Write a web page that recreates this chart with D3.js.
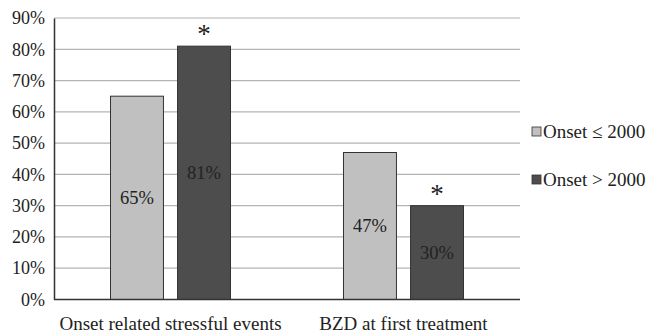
<!DOCTYPE html>
<html><head><meta charset="utf-8">
<script src="https://cdn.jsdelivr.net/npm/d3@7"></script>
<style>body{margin:0;background:#fff;overflow:hidden}svg{display:block}svg text{font-family:"Liberation Serif","Times New Roman",serif}</style>
</head><body>
<script>
const categories = ["Onset related stressful events", "BZD at first treatment"];
const seriesNames = ["Onset \u2264 2000", "Onset > 2000"];
const onsetBefore = [65, 47];
const onsetAfter = [81, 30];
const significant = [false, true]; // asterisk on series
const yTicks = [0,10,20,30,40,50,60,70,80,90];
const colors = ["#c0c0c0", "#4d4d4d"];

const FONT = "'Liberation Serif', 'Times New Roman', serif";
const W = 649, H = 333;
const m = {left:54, right:129, top:18, bottom:33.5};
const svg = d3.select("body").append("svg").attr("width", W).attr("height", H);

const x0 = d3.scaleBand().domain(categories).range([m.left, W - m.right]);
const x1 = d3.scaleBand().domain(seriesNames).range([0, 120]).paddingInner(0.21);
const y = d3.scaleLinear().domain([0, 90]).range([H - m.bottom, m.top]);

// gridlines
svg.append("g").selectAll("line").data(yTicks.filter(d => d > 0)).join("line")
  .attr("x1", m.left).attr("x2", W - m.right)
  .attr("y1", d => y(d)).attr("y2", d => y(d))
  .attr("stroke", "#b3b3b3").attr("stroke-width", 1.2);

// y axis
const yAxis = d3.axisLeft(y).tickValues(yTicks).tickFormat(d => d + "%").tickSize(0).tickPadding(9);
const gy = svg.append("g").attr("transform", `translate(${m.left},0)`).call(yAxis);
gy.attr("font-family", FONT);
gy.select(".domain").attr("stroke", "#333").attr("stroke-width", 1.5);
gy.selectAll("text").attr("font-size", 18).attr("fill", "#222").attr("font-family", FONT);

// bars
const data = categories.map((c, i) => ({cat: c, vals: [onsetBefore[i], onsetAfter[i]]}));
const groups = svg.append("g").selectAll("g").data(data).join("g")
  .attr("transform", d => `translate(${x0(d.cat) + x0.bandwidth()/2 - 60},0)`);

groups.each(function(d) {
  const g = d3.select(this);
  d.vals.forEach((v, j) => {
    const bx = x1(seriesNames[j]), bw = x1.bandwidth();
    g.append("rect").attr("x", bx).attr("width", bw)
      .attr("y", y(v)).attr("height", y(0) - y(v))
      .attr("fill", colors[j]).attr("stroke", "#333").attr("stroke-width", 1);
    g.append("text").attr("x", bx + bw/2).attr("y", (y(v) + y(0))/2 + 6.5)
      .attr("text-anchor", "middle").attr("font-size", 18.5).attr("fill", "#222")
      .attr("font-family", FONT).text(v + "%");
    if (j === 1 && significant[1]) {
      g.append("text").attr("x", bx + bw/2).attr("y", y(v) - 3)
        .attr("text-anchor", "middle").attr("font-size", 27).attr("fill", "#222")
        .attr("font-family", FONT).text("*");
    }
  });
});

// x axis baseline
svg.append("line").attr("x1", m.left).attr("x2", W - m.right)
  .attr("y1", y(0)).attr("y2", y(0)).attr("stroke", "#333").attr("stroke-width", 1.5);

// x labels
svg.append("g").selectAll("text").data(categories).join("text")
  .attr("x", d => x0(d) + x0.bandwidth()/2).attr("y", 330)
  .attr("text-anchor", "middle").attr("font-size", 19).attr("fill", "#222")
  .attr("font-family", FONT).text(d => d);

// legend
const leg = svg.append("g").selectAll("g").data(seriesNames).join("g")
  .attr("transform", (d, i) => `translate(532,${127 + i*48})`);
leg.append("rect").attr("width", 9).attr("height", 9).attr("y", 0)
  .attr("fill", (d, i) => colors[i]).attr("stroke", "#333").attr("stroke-width", 0.8);
leg.append("text").attr("x", 11).attr("y", 10.5).attr("font-size", 19).attr("fill", "#222")
  .attr("font-family", FONT).text(d => d);
</script>
</body></html>
